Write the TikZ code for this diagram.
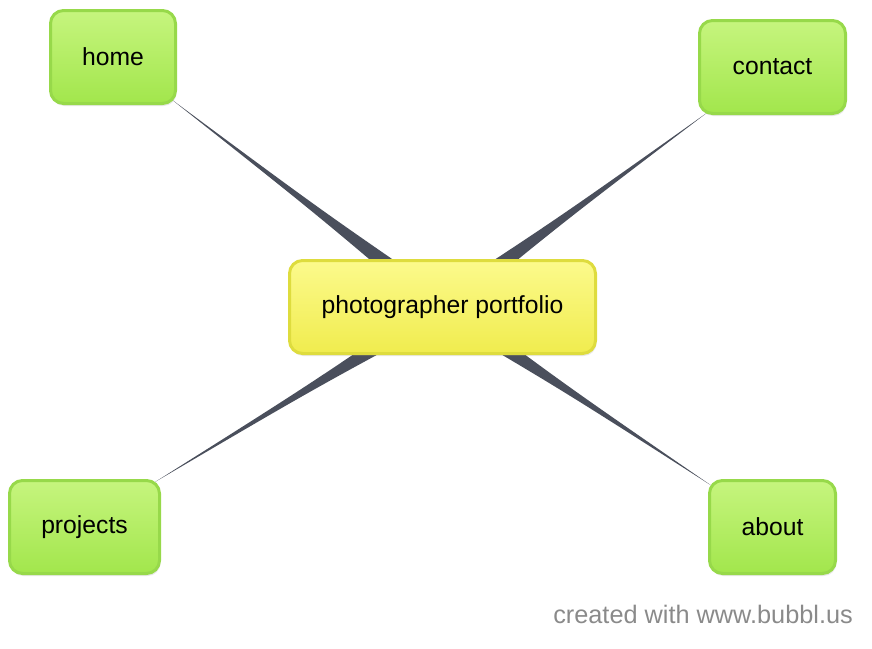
\documentclass[tikz,border=0pt]{standalone}
\usepackage{fontspec}
\setmainfont{Liberation Sans}
\usetikzlibrary{calc,shadows,backgrounds}
\definecolor{gborder}{HTML}{97D94A}
\definecolor{gtop}{HTML}{C6F57E}
\definecolor{gbot}{HTML}{A2E64C}
\definecolor{yborder}{HTML}{DEDC3E}
\definecolor{ytop}{HTML}{FCFA8C}
\definecolor{ybot}{HTML}{F0EC4E}
\definecolor{wedge}{HTML}{4A4F5C}
\definecolor{foot}{HTML}{8A8A8A}
\tikzset{
  box/.style={rounded corners=13pt, line width=3pt, inner sep=0pt, align=center,
    font=\fontsize{24.7}{28}\selectfont, text=black,
    drop shadow={opacity=0.18, shadow xshift=1pt, shadow yshift=-2.5pt}},
  leaf/.style={box, draw=gborder, top color=gtop, bottom color=gbot},
  hub/.style={box, draw=yborder, top color=ytop, bottom color=ybot},
  link/.style={fill=wedge}
}
\begin{document}
\begin{tikzpicture}[x=1pt,y=-1pt]
\useasboundingbox (0,0) rectangle (872,648);
\node[hub, minimum width=306pt, minimum height=93pt] (c) at (442.5,307) {photographer portfolio};
\node[leaf, minimum width=125pt, minimum height=93pt] (home) at (113,57) {home};
\node[leaf, minimum width=146pt, minimum height=93pt] (contact) at (772.5,67) {contact};
\node[leaf, minimum width=150pt, minimum height=93pt] (projects) at (84.5,527) {projects};
\node[leaf, minimum width=126pt, minimum height=93pt] (about) at (772.5,527) {about};
\coordinate (th) at (171,99);
\coordinate (tc) at (708,112);
\coordinate (tp) at (155,482);
\coordinate (ta) at (712,486);
\begin{scope}[on background layer]
\foreach \t in {th,tc,tp,ta}{
  \fill[link] (\t) .. controls ($(\t)!0.55!(c)!3pt!90:(c)$) .. ($(c)!11pt!-90:(\t)$)
     -- ($(c)!11pt!90:(\t)$) .. controls ($(\t)!0.55!(c)!3pt!-90:(c)$) .. (\t) -- cycle;
}
\end{scope}
\node[anchor=base east, inner sep=0pt, text=foot, font=\fontsize{25.3}{28}\selectfont] (credit) at (853,623) {created with www.bubbl.us};
\end{tikzpicture}
\end{document}
